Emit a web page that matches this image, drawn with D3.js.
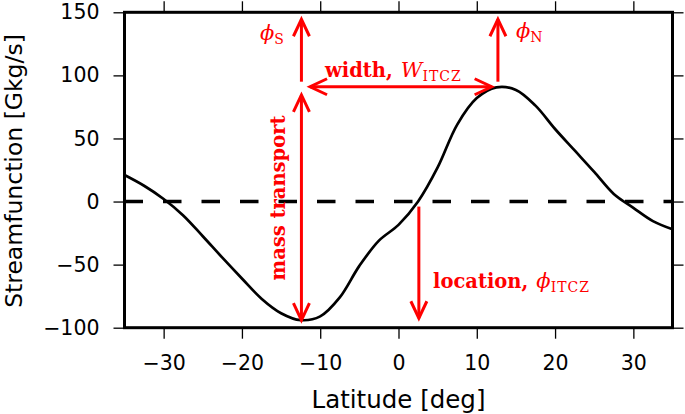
<!DOCTYPE html>
<html>
<head>
<meta charset="utf-8">
<script src="https://cdn.jsdelivr.net/npm/d3@7"></script>
<style>
body { margin: 0; background: #fff; }
</style>
</head>
<body>
<div id="viz"></div>
<script>
// streamfunction curve
const lat = [-35, -32.5, -30, -27.5, -25, -22.5, -20, -17.5, -15, -12.5, -10, -7.5, -5, -2.5, 0, 2.5, 5, 7.5, 10, 12.5, 15, 17.5, 20, 22.5, 25, 27.5, 30, 32.5, 35];
const psi = [21, 12.5, 2, -11, -27.5, -44.5, -61, -77, -88.5, -94, -91, -76, -51, -31, -18.5, 0, 27, 61, 82, 90.5, 88.5, 76, 57.5, 40.5, 23.5, 6, -5, -15.5, -22];

const xTicks = [-30, -20, -10, 0, 10, 20, 30];
const yTicks = [-100, -50, 0, 50, 100, 150];

// arrows: [lat0, val0, lat1, val1, double headed]
const arrows = [
    [-12.4, 95, -12.4, 144.5, false],
    [-12.4, 84.5, -12.4, -94, true],
    [-11.3, 91, 11.9, 91, true],
    [12.7, 95, 12.7, 144.5, false],
    [2.6, -4, 2.6, -92.5, false]
];

const W = 685, H = 414;
const red = "#ff0000";

let svg = d3.select("#viz")
    .append("svg")
    .attr("width", W)
    .attr("height", H);

let x = d3.scaleLinear().domain([-35, 35]).range([124.5, 672.5]);
let y = d3.scaleLinear().domain([-100, 150]).range([327.7, 12.3]);

function styleAxis(g, labels) {
    g.select(".domain").remove();
    g.selectAll(".tick line").attr("stroke", "#000").attr("stroke-width", 1.3);
    g.selectAll(".tick text")
        .attr("fill", "#000")
        .style("font-family", "DejaVu Sans")
        .style("font-size", "20.5px");
    if (!labels) g.selectAll(".tick text").remove();
}

svg.append("g")
    .attr("transform", "translate(0," + y(-100) + ")")
    .call(d3.axisBottom(x).tickValues(xTicks).tickSize(11).tickPadding(17))
    .call(styleAxis, true);

svg.append("g")
    .attr("transform", "translate(0," + y(150) + ")")
    .call(d3.axisTop(x).tickValues(xTicks).tickSize(11))
    .call(styleAxis, false);

svg.append("g")
    .attr("transform", "translate(" + x(-35) + ",0)")
    .call(d3.axisLeft(y).tickValues(yTicks).tickSize(11).tickPadding(14))
    .call(styleAxis, true);

svg.append("g")
    .attr("transform", "translate(" + x(35) + ",0)")
    .call(d3.axisRight(y).tickValues(yTicks).tickSize(11))
    .call(styleAxis, false);

// zero line
svg.append("line")
    .attr("x1", x(-35)).attr("x2", x(35))
    .attr("y1", y(0)).attr("y2", y(0))
    .attr("stroke", "#000")
    .attr("stroke-width", 3.5)
    .attr("stroke-dasharray", "18.5,20");

let line = d3.line()
    .x((d, i) => x(lat[i]))
    .y(d => y(d))
    .curve(d3.curveCatmullRom.alpha(0.5));

svg.append("path")
    .datum(psi)
    .attr("d", line)
    .attr("fill", "none")
    .attr("stroke", "#000")
    .attr("stroke-width", 2.7)
    .attr("stroke-linejoin", "round");

// frame
svg.append("rect")
    .attr("x", x(-35)).attr("y", y(150))
    .attr("width", x(35) - x(-35))
    .attr("height", y(-100) - y(150))
    .attr("fill", "none")
    .attr("stroke", "#000")
    .attr("stroke-width", 3);

// arrows
function head(px, py, ux, uy) {
    let L = 17, Wd = 8;
    let bx = px - ux * L, by = py - uy * L;
    return [[bx - uy * Wd, by + ux * Wd], [px, py], [bx + uy * Wd, by - ux * Wd]];
}

arrows.forEach(function (a) {
    let x0 = x(a[0]), y0 = y(a[1]), x1 = x(a[2]), y1 = y(a[3]);
    let len = Math.hypot(x1 - x0, y1 - y0);
    let ux = (x1 - x0) / len, uy = (y1 - y0) / len;
    svg.append("line")
        .attr("x1", x0).attr("y1", y0).attr("x2", x1).attr("y2", y1)
        .attr("stroke", red).attr("stroke-width", 3);
    let heads = [head(x1, y1, ux, uy)];
    if (a[4]) heads.push(head(x0, y0, -ux, -uy));
    heads.forEach(function (h) {
        svg.append("path")
            .attr("d", d3.line()(h))
            .attr("fill", "none")
            .attr("stroke", red)
            .attr("stroke-width", 3)
            .attr("stroke-linejoin", "miter");
    });
});

// red labels
function mathLabel(tx, ty, bold, sym, sub) {
    let t = svg.append("text")
        .attr("x", tx).attr("y", ty)
        .attr("fill", red)
        .style("font-family", "DejaVu Serif");
    if (bold) {
        t.append("tspan").text(bold)
            .style("font-weight", "bold")
            .style("font-size", "19.5px");
        t.append("tspan").text("\u2002");
    }
    t.append("tspan").text(sym)
        .style("font-style", "italic")
        .style("font-size", "21px");
    t.append("tspan").text(sub)
        .attr("dy", 4)
        .style("font-size", "14px")
        .style("letter-spacing", "1px");
    return t;
}

mathLabel(260, 40, null, "\u03d5", "S");
mathLabel(516, 38, null, "\u03d5", "N");
mathLabel(325, 77, "width,", "W", "ITCZ");
mathLabel(433, 288, "location,", "\u03d5", "ITCZ");

svg.append("text")
    .attr("transform", "translate(285,198) rotate(-90)")
    .attr("text-anchor", "middle")
    .attr("fill", red)
    .style("font-family", "DejaVu Serif")
    .style("font-weight", "bold")
    .style("font-size", "19.5px")
    .text("mass transport");

// axis titles
svg.append("text")
    .attr("x", 398.5).attr("y", 408)
    .attr("text-anchor", "middle")
    .style("font-family", "DejaVu Sans")
    .style("font-size", "24.5px")
    .text("Latitude [deg]");

svg.append("text")
    .attr("transform", "translate(21.5,171) rotate(-90)")
    .attr("text-anchor", "middle")
    .style("font-family", "DejaVu Sans")
    .style("font-size", "23.5px")
    .text("Streamfunction [Gkg/s]");
</script>
</body>
</html>
